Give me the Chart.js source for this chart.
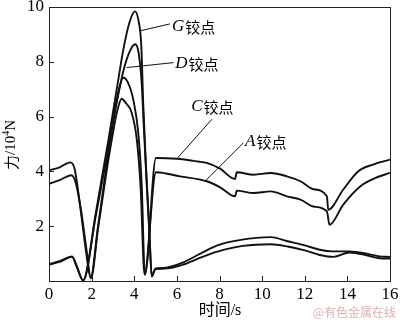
<!DOCTYPE html>
<html>
<head>
<meta charset="utf-8">
<script src="https://cdn.jsdelivr.net/npm/chart.js@4.4.1/dist/chart.umd.min.js"></script>
<style>
  html, body { margin: 0; padding: 0; background: #fff; }
  #wrap { width: 400px; height: 323px; position: relative; }
</style>
</head>
<body>
<div id="wrap"><canvas id="chart"></canvas></div>
<script>
// hinge force vs time, 10^4 N
const gTime  = [0, 0.5, 1.08, 1.3, 1.6, 2.2, 2.8, 3.2, 3.5, 3.8, 4.04, 4.2, 4.33, 4.42, 4.55, 4.7, 4.82, 5.0, 5.4, 6.3, 7.1, 7.9, 9.0, 10.4, 11.2, 12.0, 12.7, 13.3, 14.1, 15.0, 15.5, 16];
const gForce = [0.62, 0.72, 0.9, 0.55, 0.02, 2.5, 5.2, 7.1, 8.5, 9.5, 9.84, 9.5, 8.6, 6.5, 4.2, 2.0, 0.16, 0.46, 0.48, 0.68, 1.0, 1.3, 1.5, 1.6, 1.45, 1.3, 1.14, 1.08, 1.08, 0.98, 0.9, 0.88];

const dTime  = [0, 0.5, 1.08, 1.3, 1.6, 2.2, 2.8, 3.2, 3.5, 3.8, 4.04, 4.2, 4.35, 4.45, 4.58, 4.72, 4.82, 5.0, 5.4, 6.3, 7.1, 7.9, 9.1, 10.4, 11.2, 12.0, 12.7, 13.35, 14.1, 15.0, 15.5, 16];
const dForce = [0.6, 0.7, 0.88, 0.52, 0.02, 2.4, 4.9, 6.6, 7.7, 8.4, 8.64, 8.35, 7.2, 5.6, 3.6, 1.6, 0.18, 0.44, 0.45, 0.6, 0.85, 1.07, 1.28, 1.34, 1.26, 1.12, 0.95, 0.88, 1.04, 0.92, 0.83, 0.82];

const cTime  = [0, 0.5, 1.0, 1.2, 1.5, 1.75, 1.95, 2.3, 2.7, 3.0, 3.25, 3.49, 3.7, 3.96, 4.19, 4.35, 4.5, 5.02, 6.0, 7.0, 7.4, 8.03, 8.73, 8.81, 9.6, 10.4, 11.16, 11.8, 12.4, 13.04, 13.1, 13.8, 14.5, 15.2, 16];
const cForce = [4.04, 4.15, 4.33, 4.1, 2.5, 1.0, 0.12, 2.0, 4.2, 5.8, 6.9, 7.42, 7.25, 6.6, 5.4, 3.5, 0.22, 4.49, 4.46, 4.36, 4.31, 4.1, 3.72, 3.97, 3.88, 3.94, 3.82, 3.64, 3.35, 3.09, 2.6, 3.33, 4.0, 4.25, 4.43];

const aTime  = [0, 0.5, 1.05, 1.25, 1.5, 1.75, 1.97, 2.3, 2.7, 3.0, 3.2, 3.41, 3.6, 3.88, 4.12, 4.3, 4.48, 5.02, 6.15, 7.4, 8.03, 8.73, 8.81, 9.6, 10.4, 11.16, 11.8, 12.4, 13.04, 13.16, 13.8, 14.6, 15.2, 16];
const aForce = [3.55, 3.68, 3.86, 3.6, 2.6, 1.2, 0.1, 1.9, 4.0, 5.4, 6.2, 6.65, 6.5, 6.14, 5.16, 3.4, 0.25, 3.97, 3.82, 3.64, 3.42, 3.09, 3.30, 3.21, 3.27, 3.09, 2.97, 2.72, 2.54, 2.05, 2.78, 3.45, 3.72, 3.95];

const xTicks = [0, 2, 4, 6, 8, 10, 12, 14, 16];
const yTicks = [2, 4, 6, 8, 10];

// curve labels: letter, text anchor (t, F), leader line from -> to
const labelNames = ['G', 'D', 'C', 'A'];
const labelAt    = [[5.77, 9.30], [5.92, 7.93], [6.67, 6.36], [9.2, 5.09]];
const leaderFrom = [[4.27, 9.13], [3.65, 7.79], [6.0, 4.46], [7.32, 3.64]];
const leaderTo   = [[5.66, 9.38], [5.84, 7.97], [7.64, 5.9], [9.12, 5.04]];

const toPoints = (ts, fs) => ts.map((t, i) => ({ x: t, y: fs[i] }));

const serif = '"Liberation Serif", "Times New Roman", serif';
const cjk = '"Liberation Serif", "Noto Sans CJK SC", serif';

const curve = (name, ts, fs) => ({
    label: name,
    data: toPoints(ts, fs),
    borderColor: '#111',
    borderWidth: 1.9,
    pointRadius: 0,
    fill: false,
    cubicInterpolationMode: 'monotone'
});

const framePlugin = {
    id: 'frame',
    afterDraw(chart) {
        const ctx = chart.ctx;
        const { left, right, top, bottom } = chart.chartArea;
        const xs = chart.scales.x, ys = chart.scales.y;

        ctx.save();
        ctx.strokeStyle = '#222';
        ctx.lineWidth = 1;
        ctx.strokeRect(Math.round(left) + 0.5, Math.round(top) + 0.5,
            Math.round(right - left), Math.round(bottom - top));

        // inward tick marks
        ctx.beginPath();
        xTicks.slice(1, -1).forEach(v => {
            const px = Math.round(xs.getPixelForValue(v)) + 0.5;
            ctx.moveTo(px, bottom);
            ctx.lineTo(px, bottom - 5);
        });
        yTicks.slice(0, -1).forEach(v => {
            const py = Math.round(ys.getPixelForValue(v)) + 0.5;
            ctx.moveTo(left, py);
            ctx.lineTo(left + 5, py);
        });
        ctx.stroke();

        // leader lines and labels
        ctx.lineWidth = 1;
        ctx.strokeStyle = '#111';
        ctx.fillStyle = '#000';
        ctx.textBaseline = 'middle';
        labelNames.forEach((name, i) => {
            ctx.beginPath();
            ctx.moveTo(xs.getPixelForValue(leaderFrom[i][0]), ys.getPixelForValue(leaderFrom[i][1]));
            ctx.lineTo(xs.getPixelForValue(leaderTo[i][0]), ys.getPixelForValue(leaderTo[i][1]));
            ctx.stroke();

            const lx = xs.getPixelForValue(labelAt[i][0]);
            const ly = ys.getPixelForValue(labelAt[i][1]);
            ctx.font = 'italic 17px ' + serif;
            ctx.textAlign = 'left';
            ctx.fillText(name, lx, ly);
            const w = ctx.measureText(name).width;
            ctx.font = '15px "Noto Sans CJK SC"';
            ctx.fillText('铰点', lx + w + 1, ly + 1);
        });

        // y axis title, rotated
        ctx.save();
        ctx.translate(11, 145);
        ctx.rotate(-Math.PI / 2);
        ctx.textBaseline = 'middle';
        ctx.textAlign = 'left';
        const parts = [
            ['力', '15px "Noto Sans CJK SC"', 0],
            ['/10', '15px ' + serif, 0],
            ['4', '10px ' + serif, -5],
            ['N', '15px ' + serif, 0]
        ];
        let total = 0;
        parts.forEach(p => { ctx.font = p[1]; total += ctx.measureText(p[0]).width; });
        let cx = -total / 2;
        parts.forEach(p => {
            ctx.font = p[1];
            ctx.fillText(p[0], cx, p[2]);
            cx += ctx.measureText(p[0]).width;
        });
        ctx.restore();

        // x axis title
        ctx.textAlign = 'center';
        ctx.textBaseline = 'middle';
        ctx.font = '16px ' + cjk;
        ctx.fillText('时间/s', 220, 311);

        // source mark
        ctx.textAlign = 'right';
        ctx.font = '12px "Noto Sans CJK SC"';
        ctx.fillStyle = 'rgba(214, 150, 150, 0.75)';
        ctx.fillText('@有色金属在线', 396, 312);
        ctx.restore();
    }
};

new Chart(document.getElementById('chart').getContext('2d'), {
    type: 'line',
    data: {
        datasets: [
            curve('G', gTime, gForce),
            curve('D', dTime, dForce),
            curve('C', cTime, cForce),
            curve('A', aTime, aForce)
        ]
    },
    options: {
        responsive: true,
        maintainAspectRatio: false,
        animation: false,
        layout: { padding: { top: 7, right: 10, left: 0, bottom: 0 } },
        plugins: {
            legend: { display: false },
            tooltip: { enabled: false }
        },
        scales: {
            x: {
                type: 'linear',
                min: 0,
                max: 16,
                grid: { display: false, drawTicks: false },
                border: { display: false },
                afterBuildTicks: s => { s.ticks = xTicks.map(v => ({ value: v })); },
                ticks: {
                    color: '#000',
                    padding: 3,
                    maxRotation: 0,
                    font: { family: serif, size: 17 }
                },
                afterFit: s => { s.height = 42; s.paddingLeft = 0; s.paddingRight = 0; }
            },
            y: {
                min: 0,
                max: 10,
                grid: { display: false, drawTicks: false },
                border: { display: false },
                afterBuildTicks: s => { s.ticks = yTicks.map(v => ({ value: v })); },
                ticks: {
                    color: '#000',
                    padding: 5,
                    font: { family: serif, size: 17 }
                },
                afterFit: s => { s.width = 49; s.paddingTop = 0; s.paddingBottom = 0; }
            }
        }
    },
    plugins: [framePlugin]
});
</script>
</body>
</html>
